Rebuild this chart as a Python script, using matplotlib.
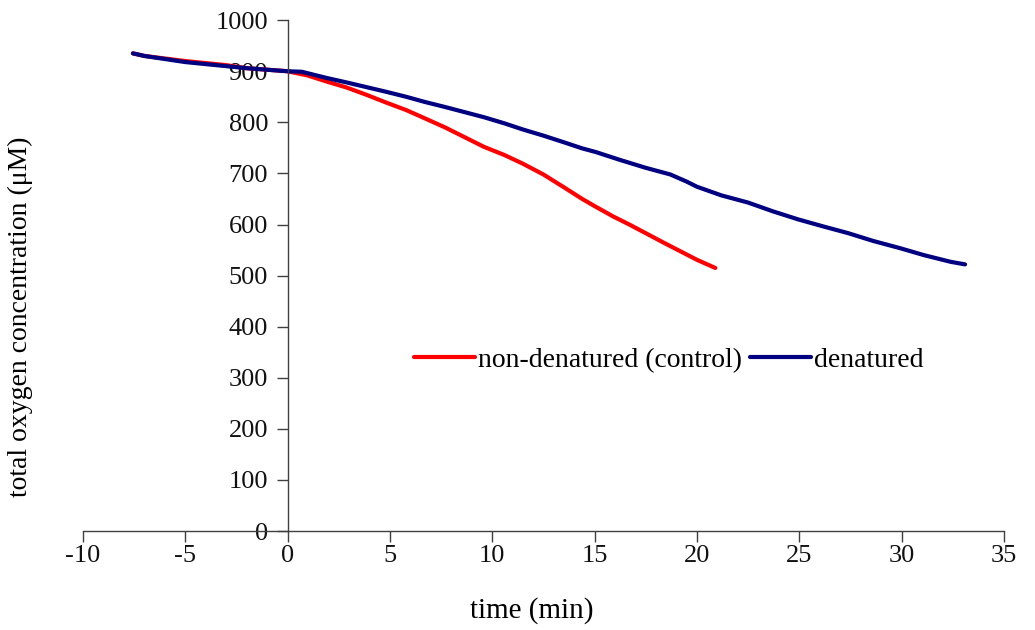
import matplotlib
matplotlib.use("Agg")
import matplotlib.pyplot as plt

time_denatured = [-7.55, -7, -6, -5, -4, -3, -2, -1, 0, 0.7, 1.9, 2.9, 3.85, 4.8, 5.8, 6.7, 7.7,
                  8.65, 9.6, 10.6, 11.5, 12.5, 13.5, 14.4, 15.05, 16.2, 17.5, 18.7, 19.5, 20.0,
                  21.2, 22.5, 23.7, 24.95, 26.2, 27.4, 28.6, 29.9, 31.1, 32.4, 33.1]
oxy_denatured = [935, 930, 924, 918, 914, 910, 906, 903, 900, 899, 887, 878, 869, 860, 850, 840,
                 830, 820, 810, 798, 786, 774, 761, 749, 742, 727, 711, 698, 684, 674, 657, 643,
                 626, 610, 596, 583, 568, 554, 540, 527, 522]

time_control = [-7.55, -7, -6, -5, -4, -3, -2, -1, 0, 0.96, 1.9, 2.9, 3.85, 4.8, 5.8, 6.7, 7.7,
                8.65, 9.6, 10.6, 11.5, 12.5, 13.5, 14.4, 15.05, 15.9, 16.7, 18.4, 20.0, 20.9]
oxy_control = [935, 930, 925, 920, 916, 912, 906, 903, 900, 892, 880, 868, 854, 839, 824, 808,
               790, 771, 752, 736, 719, 698, 673, 650, 635, 616, 600, 564, 531, 515]

x_ticks = [-10, -5, 0, 5, 10, 15, 20, 25, 30, 35]
y_ticks = [0, 100, 200, 300, 400, 500, 600, 700, 800, 900, 1000]

plt.rcParams['font.family'] = ['Liberation Serif', 'DejaVu Serif']
plt.rcParams['axes.unicode_minus'] = False

fig = plt.figure(figsize=(10.35, 6.3), dpi=100)
ax = fig.add_axes([0.080, 0.157, 0.890, 0.811])

ax.plot(time_control, oxy_control, color='#ff0000', lw=3, label='non-denatured (control)',
        solid_capstyle='round')
ax.plot(time_denatured, oxy_denatured, color='#000080', lw=3, label='denatured',
        solid_capstyle='round')

ax.set_xlim(-10, 35)
ax.set_ylim(0, 1000)
ax.set_xticks(x_ticks)
ax.set_yticks(y_ticks)
ax.spines['left'].set_position(('data', 0))
ax.spines['bottom'].set_position(('data', 0))
ax.spines['top'].set_visible(False)
ax.spines['right'].set_visible(False)
for s in ('left', 'bottom'):
    ax.spines[s].set_color('#404040')
    ax.spines[s].set_linewidth(1)
ax.tick_params(direction='out', length=8, width=1, color='#404040', labelsize=19,
               labelcolor='#111111')
ax.tick_params(axis='x', pad=2)
ax.tick_params(axis='y', pad=6)

ax.set_xlabel('time (min)', fontsize=21)
ax.xaxis.set_label_coords(0.487, -0.13)
fig.text(0.020, 0.497, 'total oxygen concentration (μM)', rotation=90, fontsize=20,
         ha='center', va='center')

ax.legend(loc='center', bbox_to_anchor=(0.636, 0.335), ncol=2, frameon=False, fontsize=20,
          handlelength=2.2, handletextpad=0.1, columnspacing=0.3, borderaxespad=0)

fig.savefig('out.png', dpi=100)
